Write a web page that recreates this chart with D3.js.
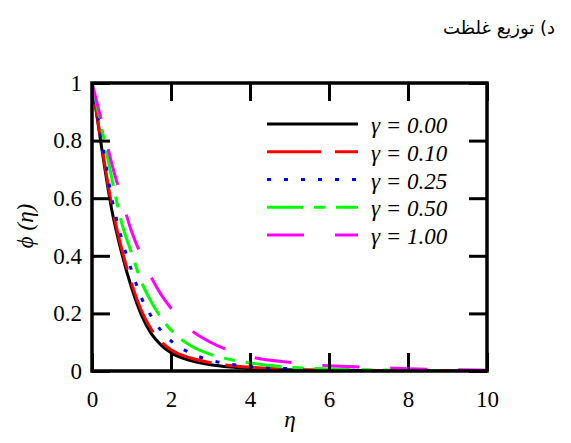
<!DOCTYPE html>
<html>
<head>
<meta charset="utf-8">
<script src="https://cdn.jsdelivr.net/npm/d3@7"></script>
<style>
  body { margin: 0; background: #fff; }
  svg { display: block; }
  svg text { font-family: "Liberation Serif", serif; }
  svg text.title { font-family: "DejaVu Sans", sans-serif; }
</style>
</head>
<body>
<div id="chart"></div>
<script>
const eta = [0, 0.25, 0.5, 0.75, 1, 1.25, 1.5, 1.75, 2, 2.5, 3, 3.5, 4, 5, 6, 7, 8, 9, 10];

const phiG000 = [1, 0.77, 0.56, 0.41, 0.29, 0.195, 0.13, 0.09, 0.063, 0.036, 0.022, 0.014, 0.009, 0.004, 0.002, 0.001, 0, 0, 0];
const phiG010 = [1, 0.78, 0.575, 0.425, 0.305, 0.21, 0.145, 0.102, 0.074, 0.045, 0.029, 0.019, 0.013, 0.006, 0.003, 0.001, 0, 0, 0];
const phiG025 = [1, 0.80, 0.60, 0.46, 0.35, 0.255, 0.19, 0.14, 0.105, 0.062, 0.037, 0.024, 0.016, 0.008, 0.004, 0.002, 0.001, 0, 0];
const phiG050 = [1, 0.84, 0.67, 0.515, 0.41, 0.31, 0.24, 0.185, 0.142, 0.088, 0.058, 0.04, 0.028, 0.013, 0.007, 0.004, 0.002, 0.001, 0];
const phiG100 = [1, 0.865, 0.72, 0.60, 0.485, 0.40, 0.325, 0.265, 0.218, 0.143, 0.10, 0.07, 0.05, 0.03, 0.018, 0.013, 0.008, 0.005, 0.003];

const seriesLabels = ["γ = 0.00", "γ = 0.10", "γ = 0.25", "γ = 0.50", "γ = 1.00"];
const xTicks = [0, 2, 4, 6, 8, 10];
const yTicks = [0, 0.2, 0.4, 0.6, 0.8, 1];
const chartTitle = "د) توزیع غلظت";

const series = [
  { label: seriesLabels[0], values: phiG000, color: "#000000", dash: null },
  { label: seriesLabels[1], values: phiG010, color: "#ff0000", dash: "54,14" },
  { label: seriesLabels[2], values: phiG025, color: "#0000ff", dash: "4,13" },
  { label: seriesLabels[3], values: phiG050, color: "#00ff00", dash: "36,11,11,11" },
  { label: seriesLabels[4], values: phiG100, color: "#ff00ff", dash: "37,31" }
];

const width = 571;
const height = 443;
const plotLeft = 92, plotRight = 487, plotTop = 83, plotBottom = 371;
const tickLen = 18;
const fontSize = "23px";
const serifFont = `"Liberation Serif", serif`;

const svg = d3.select("#chart")
  .append("svg")
  .attr("width", width)
  .attr("height", height);

const x = d3.scaleLinear().domain([0, 10]).range([plotLeft, plotRight]);
const y = d3.scaleLinear().domain([0, 1]).range([plotBottom, plotTop]);

svg.append("defs").append("clipPath")
  .attr("id", "plotArea")
  .append("rect")
  .attr("x", plotLeft)
  .attr("y", plotTop - 2)
  .attr("width", plotRight - plotLeft)
  .attr("height", plotBottom - plotTop + 2);

const curve = d3.line()
  .x((d, i) => x(eta[i]))
  .y(d => y(d))
  .curve(d3.curveMonotoneX);

svg.append("g")
  .attr("clip-path", "url(#plotArea)")
  .selectAll("path")
  .data(series)
  .enter()
  .append("path")
  .attr("d", d => curve(d.values))
  .attr("fill", "none")
  .attr("stroke", d => d.color)
  .attr("stroke-width", 3)
  .attr("stroke-dasharray", d => d.dash);

// axes: inward ticks on all four sides
const axisStyle = g => {
  g.attr("font-family", null).attr("font-size", null);
  g.select(".domain").remove();
  g.selectAll(".tick line").attr("stroke", "#000").attr("stroke-width", 3);
  g.selectAll(".tick text")
    .style("font-family", serifFont)
    .style("font-size", fontSize)
    .attr("fill", "#000");
};

svg.append("g")
  .attr("transform", `translate(0,${plotBottom})`)
  .call(d3.axisBottom(x).tickValues(xTicks).tickSizeInner(-tickLen).tickSizeOuter(0).tickPadding(20).tickFormat(d3.format("d")))
  .call(axisStyle);

svg.append("g")
  .attr("transform", `translate(0,${plotTop})`)
  .call(d3.axisTop(x).tickValues(xTicks).tickSizeInner(-tickLen).tickSizeOuter(0).tickFormat(""))
  .call(axisStyle);

svg.append("g")
  .attr("transform", `translate(${plotLeft},0)`)
  .call(d3.axisLeft(y).tickValues(yTicks).tickSizeInner(-tickLen).tickSizeOuter(0).tickPadding(10)
    .tickFormat(d => d === 0 || d === 1 ? d3.format("d")(d) : d3.format(".1f")(d)))
  .call(axisStyle);

svg.append("g")
  .attr("transform", `translate(${plotRight},0)`)
  .call(d3.axisRight(y).tickValues(yTicks).tickSizeInner(-tickLen).tickSizeOuter(0).tickFormat(""))
  .call(axisStyle);

svg.append("rect")
  .attr("x", plotLeft)
  .attr("y", plotTop)
  .attr("width", plotRight - plotLeft)
  .attr("height", plotBottom - plotTop)
  .attr("fill", "none")
  .attr("stroke", "#000")
  .attr("stroke-width", 3.5);

// axis titles
svg.append("text")
  .attr("x", 290)
  .attr("y", 427)
  .attr("text-anchor", "middle")
  .style("font-family", serifFont)
  .style("font-style", "italic")
  .style("font-size", fontSize)
  .text("η");

svg.append("text")
  .attr("transform", `translate(33,226) rotate(-90)`)
  .attr("text-anchor", "middle")
  .style("font-family", serifFont)
  .style("font-style", "italic")
  .style("font-size", fontSize)
  .text("ϕ (η)");

// legend
const legend = svg.append("g");
const rowY = i => 124 + i * 27.75;

legend.selectAll("line")
  .data(series)
  .enter()
  .append("line")
  .attr("x1", 267)
  .attr("x2", 358)
  .attr("y1", (d, i) => rowY(i))
  .attr("y2", (d, i) => rowY(i))
  .attr("stroke", d => d.color)
  .attr("stroke-width", 3)
  .attr("stroke-dasharray", d => d.dash);

legend.selectAll("text")
  .data(series)
  .enter()
  .append("text")
  .attr("x", 371)
  .attr("y", (d, i) => rowY(i) + 9)
  .style("font-family", serifFont)
  .style("font-style", "italic")
  .style("font-size", fontSize)
  .text(d => d.label);

// title
svg.append("text")
  .attr("class", "title")
  .attr("x", 555)
  .attr("y", 34)
  .attr("direction", "rtl")
  .attr("text-anchor", "start")
  .style("font-family", `"DejaVu Sans", sans-serif`)
  .style("font-size", "18px")
  .text(chartTitle);
</script>
</body>
</html>
